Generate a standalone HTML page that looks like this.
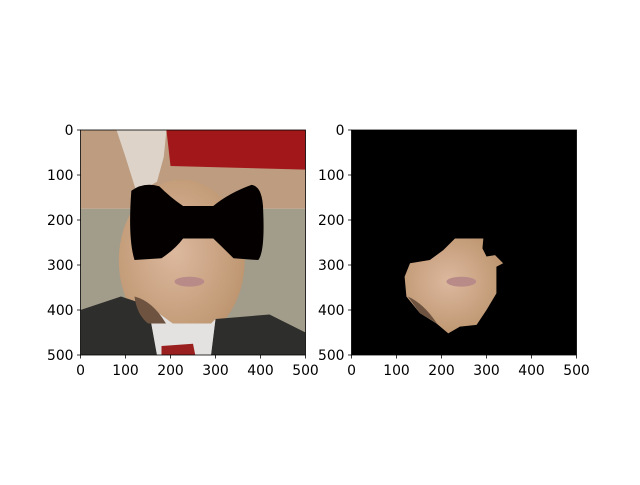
<!DOCTYPE html>
<html><head><meta charset="utf-8"><style>
html,body{margin:0;padding:0;background:#fff;}
svg text{font-family:"DejaVu Sans","Liberation Sans",sans-serif;font-size:13.9px;fill:#000;}
</style></head><body>
<svg width="640" height="480" viewBox="0 0 640 480">
<defs>
<clipPath id="c1"><rect x="0" y="0" width="500" height="500"/></clipPath>
<radialGradient id="skin" cx="0.45" cy="0.45" r="0.6">
<stop offset="0" stop-color="#dcb89e"/><stop offset="1" stop-color="#bc946e"/></radialGradient>
</defs>
<rect width="640" height="480" fill="#fff"/>
<g transform="translate(80.5,130) scale(0.45)" clip-path="url(#c1)">
<rect x="0" y="0" width="500" height="175" fill="#bd9c80"/>
<rect x="0" y="175" width="500" height="325" fill="#a29c8a"/>
<path d="M191,0 L500,0 L500,88 L200,80 Z" fill="#a2181a"/>
<ellipse cx="225" cy="290" rx="140" ry="180" fill="url(#skin)"/>
<path d="M80,0 L191,0 L185,60 L170,115 L125,140 L100,60 Z" fill="#ddd3c8"/>
<path d="M0,400 L90,370 L150,390 L170,500 L0,500 Z" fill="#2e2e2c"/>
<path d="M300,420 L420,410 L500,450 L500,500 L290,500 Z" fill="#2e2e2c"/>
<path d="M150,390 L205,430 L290,430 L300,420 L290,500 L170,500 Z" fill="#e4e2e0"/>
<path d="M180,480 L250,475 L255,500 L180,500 Z" fill="#9a2020"/>
<path d="M120,370 Q160,380 190,430 L150,430 Q125,410 120,370 Z" fill="#6e5440"/>
<ellipse cx="242" cy="337" rx="33" ry="11" fill="#b88a88"/>
<path d="M113,135 Q140,115 175,125 Q200,150 228,169 L295,169 Q330,140 380,122 Q405,125 406,180 Q410,270 395,289 L340,285 Q310,255 295,241 L228,241 Q210,265 180,285 L120,289 Q105,240 113,135 Z" fill="#050000"/>
</g>
<rect x="80.5" y="130" width="225" height="225" fill="none" stroke="#000" stroke-width="0.8"/>
<g transform="translate(351.5,130) scale(0.45)" clip-path="url(#c1)">
<rect x="0" y="0" width="500" height="500" fill="#000"/>
<path d="M230,241 L293,241 L291,263 L300,281 L319,278 L337,296 L322,304 L322,363 L300,400 L278,433 L241,437 L215,452 L189,430 L152,407 L122,370 L118,326 L130,296 L174,289 L204,267 Z" fill="url(#skin)"/>
<path d="M125,370 Q160,385 190,430 L152,407 Z" fill="#6e5440"/>
<ellipse cx="244" cy="337" rx="33" ry="11" fill="#b88a88"/>
</g>
<rect x="351.5" y="130" width="225" height="225" fill="none" stroke="#000" stroke-width="0.8"/>
<g id="ticks"></g>
</svg>
<script>
const tickValues=[0,100,200,300,400,500];
const axesLeft=[80.5,351.5];
const g=document.getElementById('ticks');
const NS='http://www.w3.org/2000/svg';
axesLeft.forEach((ax,i)=>{
 tickValues.forEach(v=>{
  const p=v*0.45;
  let l=document.createElementNS(NS,'line');
  l.setAttribute('x1',ax+p);l.setAttribute('x2',ax+p);l.setAttribute('y1',355);l.setAttribute('y2',358.5);
  l.setAttribute('stroke','#000');l.setAttribute('stroke-width','0.8');
  
  
  g.appendChild(l);
  let t=document.createElementNS(NS,'text');
  t.setAttribute('x',ax+p);t.setAttribute('y',375);t.setAttribute('text-anchor','middle');
  t.textContent=v;
  
  
  g.appendChild(t);
  let l2=document.createElementNS(NS,'line');
  l2.setAttribute('x1',ax-3.5);l2.setAttribute('x2',ax);l2.setAttribute('y1',130+p);l2.setAttribute('y2',130+p);
  l2.setAttribute('stroke','#000');l2.setAttribute('stroke-width','0.8');
  
  
  g.appendChild(l2);
  let t2=document.createElementNS(NS,'text');
  t2.setAttribute('x',ax-7);t2.setAttribute('y',135+p);t2.setAttribute('text-anchor','end');
  t2.textContent=v;
  
  
  g.appendChild(t2);
 });
});
</script>
</body></html>
